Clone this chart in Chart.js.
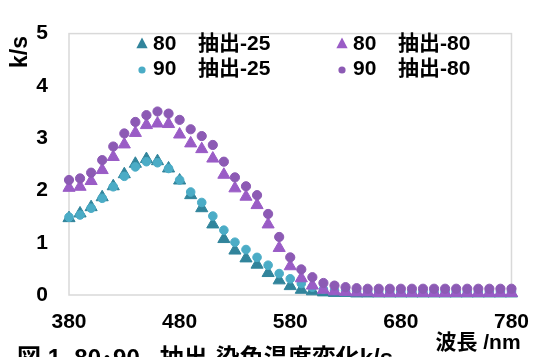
<!DOCTYPE html>
<html>
<head>
<meta charset="utf-8">
<script src="https://cdn.jsdelivr.net/npm/chart.js@4/dist/chart.umd.min.js"></script>
<style>
  html, body { margin: 0; padding: 0; background: #ffffff; }
  #wrap { width: 544px; height: 357px; }
</style>
</head>
<body>
<div id="wrap"><canvas id="c" width="544" height="357"></canvas></div>
<script>
// Wavelength grid (nm)
const wavelengths = [380, 390, 400, 410, 420, 430, 440, 450, 460, 470,
                     480, 490, 500, 510, 520, 530, 540, 550, 560, 570,
                     580, 590, 600, 610, 620, 630, 640, 650, 660, 670,
                     680, 690, 700, 710, 720, 730, 740, 750, 760, 770, 780];

// k/s values per extraction / dyeing condition
const ks80_25 = [1.47, 1.56, 1.68, 1.87, 2.08, 2.31, 2.51, 2.60, 2.56, 2.42,
                 2.19, 1.91, 1.66, 1.35, 1.07, 0.85, 0.70, 0.58, 0.42, 0.28,
                 0.17, 0.10, 0.07, 0.05, 0.04, 0.04, 0.03, 0.03, 0.03, 0.03,
                 0.03, 0.03, 0.03, 0.03, 0.03, 0.03, 0.03, 0.03, 0.03, 0.03, 0.03];
const ks90_25 = [1.49, 1.53, 1.66, 1.85, 2.07, 2.27, 2.45, 2.55, 2.53, 2.42,
                 2.20, 1.97, 1.77, 1.51, 1.24, 1.01, 0.87, 0.72, 0.57, 0.41,
                 0.31, 0.22, 0.15, 0.11, 0.09, 0.08, 0.07, 0.07, 0.06, 0.06,
                 0.06, 0.06, 0.06, 0.06, 0.06, 0.06, 0.06, 0.06, 0.06, 0.06, 0.06];
const ks80_80 = [2.05, 2.07, 2.18, 2.39, 2.64, 2.88, 3.10, 3.25, 3.28, 3.27,
                 3.07, 2.90, 2.79, 2.61, 2.30, 2.04, 1.88, 1.72, 1.35, 0.90,
                 0.55, 0.32, 0.18, 0.10, 0.07, 0.06, 0.05, 0.05, 0.04, 0.04,
                 0.04, 0.04, 0.04, 0.04, 0.04, 0.04, 0.04, 0.04, 0.04, 0.04, 0.04];
const ks90_80 = [2.20, 2.23, 2.34, 2.58, 2.84, 3.09, 3.31, 3.44, 3.51, 3.47,
                 3.35, 3.17, 3.04, 2.87, 2.55, 2.25, 2.08, 1.91, 1.55, 1.11,
                 0.72, 0.49, 0.34, 0.23, 0.18, 0.15, 0.13, 0.12, 0.12, 0.12,
                 0.12, 0.12, 0.12, 0.12, 0.12, 0.12, 0.12, 0.12, 0.12, 0.12, 0.12];

// Series labels (legend order: row by row)
const seriesLabels = ['80　抽出-25', '80　抽出-80', '90　抽出-25', '90　抽出-80'];

const xTicks = [380, 480, 580, 680, 780];
const yTicks = [0, 1, 2, 3, 4, 5];

const yTitle = 'k/s';
const xTitle = '波長 /nm';
const caption = '図 1  80･90   抽出-染色温度変化k/s';

const FONT = '"Liberation Sans", Arial, "Noto Sans CJK JP", sans-serif';

const TEAL_DARK = '#31849B';
const TEAL_LIGHT = '#4BACC6';
const PURPLE_TRI = '#9A5CC6';
const PURPLE_DOT = '#8C5AB4';

const toPoints = vals => wavelengths.map((w, i) => ({ x: w, y: vals[i] }));

const series = [
  { label: seriesLabels[0], values: ks80_25, color: TEAL_DARK,  style: 'triangle', r: 7,   order: 4 },
  { label: seriesLabels[1], values: ks80_80, color: PURPLE_TRI, style: 'triangle', r: 7,   order: 2 },
  { label: seriesLabels[2], values: ks90_25, color: TEAL_LIGHT, style: 'circle',   r: 4.3, order: 3 },
  { label: seriesLabels[3], values: ks90_80, color: PURPLE_DOT, style: 'circle',   r: 4.6, order: 1 }
];

const datasets = series.map(s => ({
  label: s.label,
  data: toPoints(s.values),
  showLine: false,
  pointStyle: s.style,
  pointRadius: s.r,
  pointBackgroundColor: s.color,
  pointBorderColor: s.color,
  pointBorderWidth: 1,
  order: s.order,
  clip: false
}));

// Frame, axis titles, caption and legend
const decor = {
  id: 'decor',
  beforeDatasetsDraw(chart) {
    const { ctx, chartArea: a } = chart;
    ctx.save();
    ctx.strokeStyle = '#d9d9d9';
    ctx.lineWidth = 1.5;
    ctx.strokeRect(a.left, a.top, a.right - a.left, a.bottom - a.top);
    ctx.restore();
  },
  afterDraw(chart) {
    const { ctx } = chart;
    ctx.save();
    ctx.fillStyle = '#000000';

    // y-axis title
    ctx.save();
    ctx.translate(21, 52);
    ctx.rotate(-Math.PI / 2);
    ctx.font = 'bold 23px ' + FONT;
    ctx.textAlign = 'center';
    ctx.textBaseline = 'middle';
    ctx.fillText(yTitle, 0, 0);
    ctx.restore();

    // x-axis title
    ctx.font = 'bold 21px ' + FONT;
    ctx.textAlign = 'center';
    ctx.textBaseline = 'middle';
    ctx.fillText(xTitle, 478, 343);

    // figure caption
    ctx.font = 'bold 24px ' + FONT;
    ctx.textAlign = 'left';
    ctx.textBaseline = 'middle';
    ctx.fillText(caption, 17, 359);

    // legend, two columns
    const cols = [142, 342];
    const rows = [44, 69];
    series.forEach((s, i) => {
      const cx = cols[i % 2];
      const cy = rows[Math.floor(i / 2)];
      ctx.fillStyle = s.color;
      ctx.beginPath();
      if (s.style === 'triangle') {
        const r = 6.5;
        ctx.moveTo(cx, cy - r);
        ctx.lineTo(cx + r * 0.866, cy + r * 0.5 + 1);
        ctx.lineTo(cx - r * 0.866, cy + r * 0.5 + 1);
        ctx.closePath();
      } else {
        ctx.arc(cx, cy + 1, 3.6, 0, Math.PI * 2);
      }
      ctx.fill();
      const parts = s.label.split('　');
      ctx.fillStyle = '#000000';
      ctx.font = 'bold 21px ' + FONT;
      ctx.textAlign = 'left';
      ctx.textBaseline = 'middle';
      ctx.fillText(parts[0], cx + 11, cy);
      ctx.fillText(parts[1], cx + 56, cy);
    });
    ctx.restore();
  }
};

new Chart(document.getElementById('c'), {
  type: 'scatter',
  data: { datasets },
  options: {
    responsive: false,
    animation: false,
    devicePixelRatio: 1,
    layout: { padding: { top: 24, right: 22, left: 0, bottom: 0 } },
    plugins: { legend: { display: false }, tooltip: { enabled: false } },
    scales: {
      x: {
        type: 'linear',
        min: xTicks[0],
        max: xTicks[xTicks.length - 1],
        afterFit: s => { s.height = 62; },
        afterBuildTicks: s => { s.ticks = xTicks.map(v => ({ value: v })); },
        grid: { display: false, drawTicks: false },
        border: { display: false },
        ticks: {
          padding: 15,
          color: '#000000',
          font: { family: FONT, size: 21, weight: 'bold' },
          maxRotation: 0
        }
      },
      y: {
        min: yTicks[0],
        max: yTicks[yTicks.length - 1],
        afterFit: s => { s.width = 69; },
        afterBuildTicks: s => { s.ticks = yTicks.map(v => ({ value: v })); },
        grid: { display: false, drawTicks: false },
        border: { display: false },
        ticks: {
          padding: 21,
          color: '#000000',
          font: { family: FONT, size: 21, weight: 'bold' }
        }
      }
    }
  },
  plugins: [decor]
});
</script>
</body>
</html>
